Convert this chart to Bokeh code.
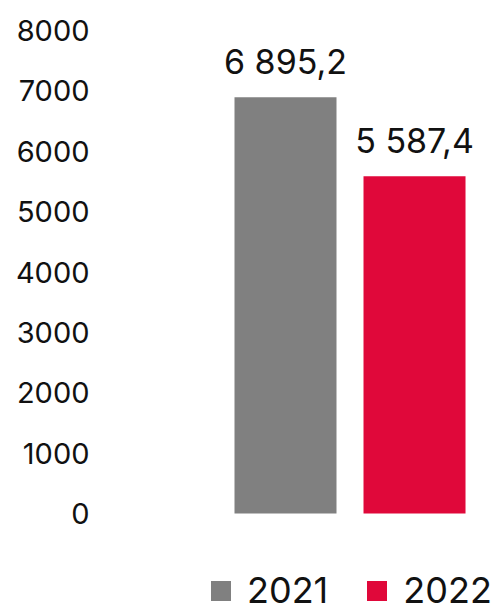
from bokeh.plotting import figure
from bokeh.models import ColumnDataSource, Range1d, FixedTicker, Legend, LegendItem
from bokeh.embed import file_html
from bokeh.resources import INLINE
from bokeh.core.properties import value

categories = ["2021", "2022"]
values = [6895.2, 5587.4]
colors = ["#808080", "#E0083A"]
y_ticks = [0, 1000, 2000, 3000, 4000, 5000, 6000, 7000, 8000]

FONT = "Inter"

labels = [f"{v:,.1f}".replace(",", " ").replace(".", ",") for v in values]
xs = [i + 0.5 for i in range(len(categories))]

src = ColumnDataSource(dict(x=xs, top=values, color=colors, label=labels, cat=categories))

# frame spans down to the figure bottom so the legend can sit inside it
y_max = 8000
px_per_unit = 483 / y_max
y_min = -98 / px_per_unit

p = figure(width=498, height=611, output_backend="svg", toolbar_location=None,
           x_range=Range1d(-0.934, 2.151), y_range=Range1d(y_min, y_max),
           min_border_left=100, min_border_right=0, min_border_top=30, min_border_bottom=0)
p.outline_line_color = None
p.grid.visible = False
p.xaxis.visible = False

bars = p.vbar(x="x", top="top", bottom=0, width=102/129, color="color", line_color=None, source=src)

p.text(x="x", y="top", text="label", source=src, text_align="center",
       text_baseline="alphabetic", y_offset=-36, text_font=value(FONT),
       text_font_size="34px", text_color="#111111")

ya = p.yaxis[0]
ya.ticker = FixedTicker(ticks=y_ticks)
ya.axis_line_color = None
ya.major_tick_line_color = None
ya.minor_tick_line_color = None
ya.major_tick_out = 0
ya.major_label_standoff = 11
ya.major_label_text_font = FONT
ya.major_label_text_font_size = "29px"
ya.major_label_text_color = "#111111"

legend = Legend(items=[LegendItem(label=c, renderers=[bars], index=i) for i, c in enumerate(categories)],
                orientation="horizontal", location=(108, -1),
                glyph_width=25, glyph_height=25, label_standoff=14, spacing=36,
                padding=0, margin=0, border_line_color=None, background_fill_alpha=0,
                label_text_font=FONT, label_text_font_size="36px", label_text_color="#111111")
p.add_layout(legend, "center")

open("out.html", "w").write(file_html(p, INLINE))
